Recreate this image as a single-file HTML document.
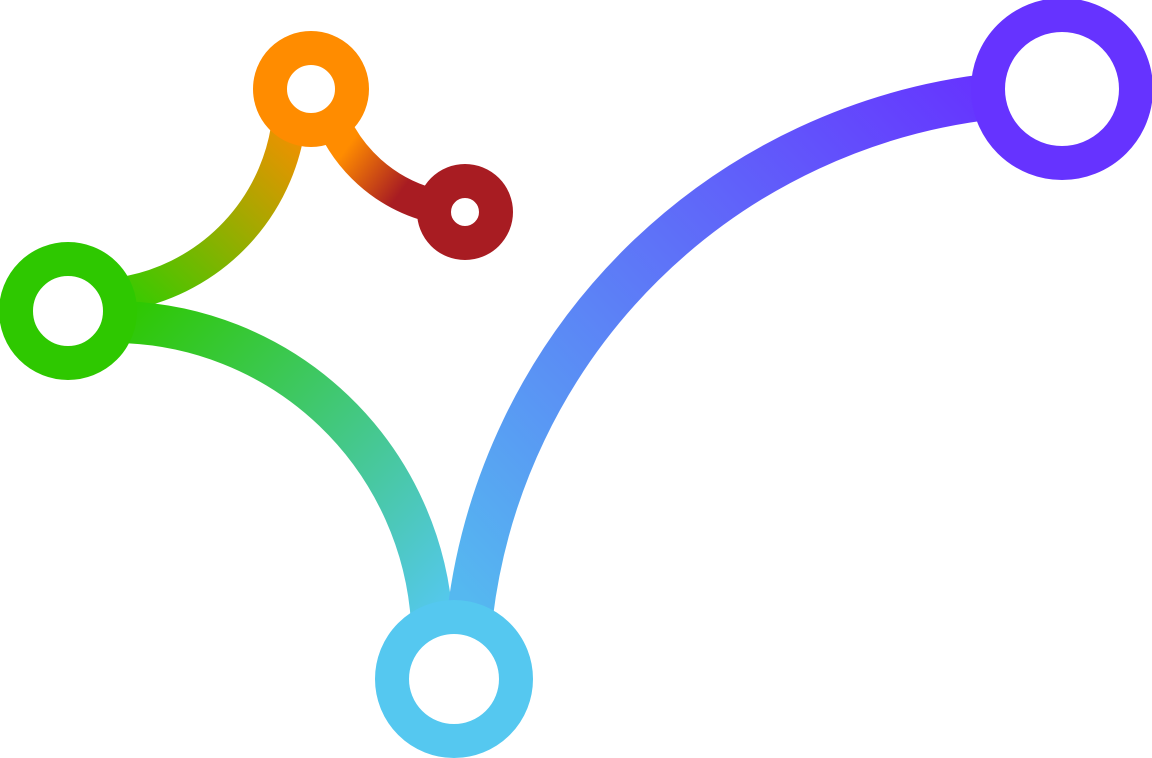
<!DOCTYPE html>
<html><head><meta charset="utf-8"><style>html,body{margin:0;padding:0;background:#fff}svg{display:block}</style></head>
<body>
<svg width="1152" height="758" viewBox="0 0 1152 758" xmlns="http://www.w3.org/2000/svg">
<defs>
<linearGradient id="g1" gradientUnits="userSpaceOnUse" x1="300" y1="110" x2="120" y2="300">
<stop offset="0" stop-color="#ff8c00"/><stop offset="1" stop-color="#33cc00"/></linearGradient>
<linearGradient id="g2" gradientUnits="userSpaceOnUse" x1="345" y1="150" x2="420" y2="205">
<stop offset="0" stop-color="#ff8c00"/><stop offset="0.75" stop-color="#a81c22"/><stop offset="1" stop-color="#a81c22"/></linearGradient>
<linearGradient id="g3" gradientUnits="userSpaceOnUse" x1="120" y1="320" x2="440" y2="620">
<stop offset="0" stop-color="#2ec800"/><stop offset="1" stop-color="#55c8f0"/></linearGradient>
<linearGradient id="g4" gradientUnits="userSpaceOnUse" x1="470" y1="600" x2="1000" y2="100">
<stop offset="0" stop-color="#55b8f0"/><stop offset="1" stop-color="#6633ff"/></linearGradient>
</defs>
<g fill="none">
<path d="M 290 110 A 200 200 0 0 1 115 295" stroke="url(#g1)" stroke-width="34"/>
<path d="M 330 115 A 150 150 0 0 0 430 205" stroke="url(#g2)" stroke-width="34"/>
<path d="M 118 322 A 320 320 0 0 1 432 622" stroke="url(#g3)" stroke-width="42"/>
<path d="M 470 615 A 594 594 0 0 1 995 96" stroke="url(#g4)" stroke-width="46"/>
</g>
<g fill="#fff" stroke-width="34">
<circle cx="311" cy="89" r="41" stroke="#ff8c00"/>
<circle cx="465" cy="212" r="31" stroke="#a81c22"/>
<circle cx="68" cy="311" r="52" stroke="#2ec800"/>
<circle cx="454" cy="679" r="62" stroke="#55c8f0"/>
<circle cx="1062" cy="89" r="74" stroke="#6633ff"/>
</g>
</svg>
</body></html>
